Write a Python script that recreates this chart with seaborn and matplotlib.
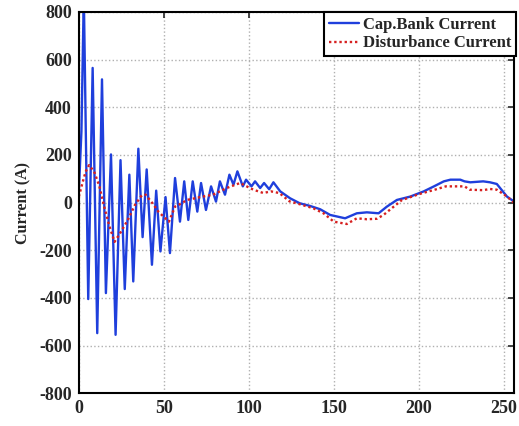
import matplotlib
matplotlib.use("Agg")
import matplotlib.pyplot as plt
import seaborn as sns
import pandas as pd

# Cap. bank current (peaks/troughs)
cap_x = [0, 1.5, 2.9, 5.5, 8.1, 10.8, 13.6, 15.9, 18.9, 21.6, 24.5, 27.0, 29.7, 32.0,
         35.0, 37.5, 39.9, 43.0, 45.5, 48.0, 51.0, 53.6, 56.6, 59.5, 62.0, 64.4, 67.0,
         69.7, 71.9, 74.8, 77.8, 80.7, 83.0, 86.0, 88.6, 91.0, 93.3, 96.5, 98.4, 101.6,
         103.7, 106.7, 109.0, 112.0, 114.5, 118.5, 124.3, 130.0, 136.0, 142.0, 147.9,
         156.7, 163.6, 169.5, 176.4, 181.3, 187.2, 195.0, 203.0, 209.0, 214.8, 218.7,
         224.5, 227.0, 230.4, 238.0, 242.0, 246.0, 252.0, 256.0]
cap_y = [50, 300, 870, -405, 565, -548, 517, -380, 202, -555, 178, -363, 117, -331,
         226, -145, 139, -261, 50, -205, 23, -212, 103, -80, 89, -73, 89,
         -38, 82, -31, 68, 4, 89, 33, 117, 75, 131, 68, 96, 68,
         89, 61, 82, 56, 85, 47, 18, -3, -14, -28, -52,
         -66, -45, -41, -45, -17, 11, 25, 47, 68, 89, 96,
         96, 89, 85, 89, 85, 78, 25, 5]

# Disturbance current
dist_x = [0, 2, 4, 6, 9, 12, 15, 18, 21, 25, 29, 33, 37, 39.3, 43, 47, 53, 56.6, 60,
          63.6, 71.5, 79, 87, 94.8, 102.7, 108.6, 113, 118, 124, 130, 138, 144, 150,
          157.7, 163.6, 169.5, 175.4, 179.3, 190, 200, 210, 216, 227, 230, 238, 242,
          246, 252, 256]
dist_y = [25, 80, 130, 157, 130, 70, -20, -100, -165, -120, -70, -10, 30, 33, 0, -40,
          -80, -17, -5, 11, 23, 33, 61, 82, 54, 40, 47, 40, 5, -7, -24, -45, -80,
          -90, -66, -70, -68, -52, 10, 35, 55, 68, 68, 54, 52, 57, 54, 25, 0]

series_names = ["Cap.Bank Current", "Disturbance Current"]
y_ticks = [-800, -600, -400, -200, 0, 200, 400, 600, 800]
x_ticks = [0, 50, 100, 150, 200, 250]

df = pd.concat([
    pd.DataFrame({"t": cap_x, "I": cap_y, "s": series_names[0]}),
    pd.DataFrame({"t": dist_x, "I": dist_y, "s": series_names[1]}),
])

sns.set_style("white")
plt.rcParams["font.family"] = ["Liberation Serif", "DejaVu Serif"]
plt.rcParams["axes.unicode_minus"] = False

fig = plt.figure(figsize=(5.19, 4.26), dpi=100)
ax = fig.add_axes([0.152, 0.077, 0.838, 0.895])

sns.lineplot(data=df, x="t", y="I", hue="s", style="s",
             palette={series_names[0]: "#1f3fdc", series_names[1]: "#d62020"},
             dashes={series_names[0]: "", series_names[1]: (1, 1.2)},
             sort=False, estimator=None, ax=ax, linewidth=1.7)

ax.set_xlim(0, 256)
ax.set_ylim(-800, 800)
ax.set_xticks(x_ticks)
ax.set_yticks(y_ticks)
ax.set_xlabel("")
ax.set_ylabel("Current (A)", fontsize=11.5, fontweight="bold", labelpad=6)
ax.grid(True, linestyle=":", color="#b0b0b0", linewidth=1.0)
ax.tick_params(direction="in", top=True, right=True, length=4, width=1.2,
               labelsize=13, pad=5)
for lab in ax.get_xticklabels() + ax.get_yticklabels():
    lab.set_fontweight("bold")
for sp in ax.spines.values():
    sp.set_color("black")
    sp.set_linewidth(1.5)

leg = ax.legend(loc="upper right", bbox_to_anchor=(1.005, 1.0), borderaxespad=0,
                fancybox=False, frameon=True, handlelength=1.8, handletextpad=0.2,
                borderpad=0.3, labelspacing=0.15,
                prop={"weight": "bold", "size": 12, "family": "Liberation Serif"})
leg.get_frame().set_edgecolor("black")
leg.get_frame().set_linewidth(1.5)
leg.get_frame().set_alpha(1)

fig.savefig("out.png", dpi=100)
